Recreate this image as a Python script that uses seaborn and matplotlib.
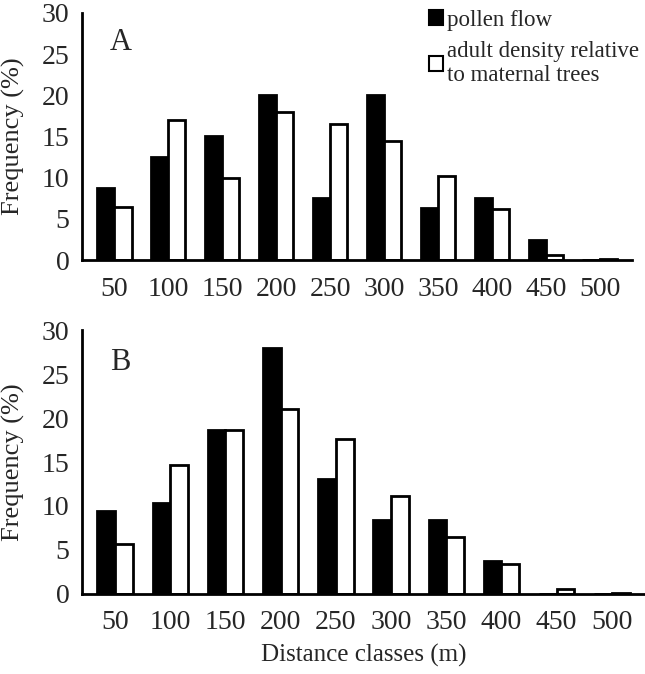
import matplotlib
matplotlib.use("Agg")
import matplotlib.pyplot as plt
import seaborn as sns
import pandas as pd
from matplotlib.patches import Patch

distance = ['50', '100', '150', '200', '250', '300', '350', '400', '450', '500']
pollen_a = [8.8, 12.5, 15.0, 20.0, 7.5, 20.0, 6.3, 7.5, 2.5, 0.0]
adult_a = [6.5, 17.0, 10.0, 18.0, 16.5, 14.5, 10.2, 6.2, 0.6, 0.1]
pollen_b = [9.4, 10.3, 18.7, 28.0, 13.1, 8.4, 8.4, 3.7, 0.0, 0.0]
adult_b = [5.7, 14.7, 18.7, 21.0, 17.6, 11.1, 6.5, 3.4, 0.6, 0.1]
series = ['pollen flow', 'adult density relative\nto maternal trees']

sns.set_style('white')
plt.rcParams['font.family'] = ['Liberation Serif', 'DejaVu Serif']


def long_df(pollen, adult):
    return pd.DataFrame({
        'distance': distance * 2,
        'freq': pollen + adult,
        'series': [series[0]] * len(distance) + [series[1]] * len(distance),
    })


def draw_panel(ax, df, letter):
    sns.barplot(data=df, x='distance', y='freq', hue='series', order=distance,
                hue_order=series, palette=['black', 'white'], edgecolor='black',
                linewidth=2, width=0.64, ax=ax, legend=False)
    ax.set_ylim(0, 30)
    ax.set_yticks(range(0, 31, 5))
    ax.set_xlim(-0.6, 9.6)
    ax.tick_params(length=0, labelsize=20, pad=12)
    ax.tick_params(axis='y', pad=9)
    for s in ['top', 'right']:
        ax.spines[s].set_visible(False)
    for s in ['left', 'bottom']:
        ax.spines[s].set_linewidth(2)
        ax.spines[s].set_color('black')
    ax.set_ylabel('Frequency (%)', fontsize=19)
    ax.set_xlabel('')
    ax.text(0.05, 0.85, letter, transform=ax.transAxes, fontsize=22)


fig = plt.figure(figsize=(6.45, 6.74), dpi=100)
ax_a = fig.add_axes([0.127, 0.614, 0.853, 0.367])
ax_b = fig.add_axes([0.127, 0.119, 0.873, 0.391])

draw_panel(ax_a, long_df(pollen_a, adult_a), 'A')
draw_panel(ax_b, long_df(pollen_b, adult_b), 'B')
# y label sits close to the left edge of the figure
ax_a.yaxis.set_label_coords(-57 / 550, 0.5)
ax_b.yaxis.set_label_coords(-57 / 563, 0.5)
ax_b.set_xlabel('Distance classes (m)', fontsize=18, labelpad=6)

handles = [Patch(facecolor='black', edgecolor='black', lw=1.5),
           Patch(facecolor='white', edgecolor='black', lw=1.5)]
ax_a.legend(handles, series, loc='upper left', bbox_to_anchor=(0.615, 1.05),
            frameon=False, fontsize=16.5, handlelength=0.6, handleheight=0.6,
            handletextpad=0.15, labelspacing=0.45, borderaxespad=0)

fig.savefig('out.png', dpi=100)
